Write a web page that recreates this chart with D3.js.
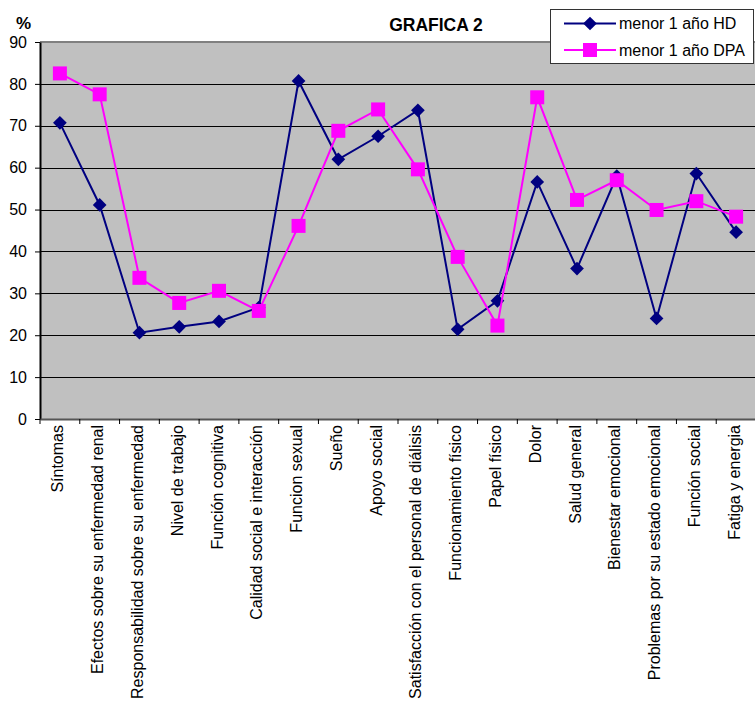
<!DOCTYPE html>
<html>
<head>
<meta charset="utf-8">
<script src="https://cdn.jsdelivr.net/npm/d3@7"></script>
<style>
  html, body { margin: 0; padding: 0; background: #fff; }
  svg { display: block; font-family: "Liberation Sans", Arial, sans-serif; }
  svg text { font-family: "Liberation Sans", Arial, sans-serif; }
</style>
</head>
<body>
<svg id="chart" width="755" height="702"></svg>
<script>
// Dimensiones de calidad de vida (eje X)
const categories = [
  "Síntomas",
  "Efectos sobre su enfermedad renal",
  "Responsabilidad sobre su enfermedad",
  "Nivel de trabajo",
  "Función cognitiva",
  "Calidad social e interacción",
  "Funcion sexual",
  "Sueño",
  "Apoyo social",
  "Satisfacción con el personal de diálisis",
  "Funcionamiento físico",
  "Papel físico",
  "Dolor",
  "Salud general",
  "Bienestar emocional",
  "Problemas por su estado emocional",
  "Función social",
  "Fatiga y energia"
];

// Puntuaciones (%) por grupo
const valuesHD  = [70.7, 51.1, 20.6, 22.0, 23.3, 26.6, 80.7, 62.0, 67.5, 73.7, 21.4, 28.2, 56.6, 35.9, 58.0, 24.0, 58.6, 44.6];
const valuesDPA = [82.5, 77.5, 33.7, 27.7, 30.6, 25.8, 46.1, 68.8, 73.9, 59.6, 38.7, 22.3, 76.8, 52.3, 57.0, 49.9, 52.0, 48.3];

const seriesNames = ["menor 1 año HD", "menor 1 año DPA"];
const yTicks = [0, 10, 20, 30, 40, 50, 60, 70, 80, 90];

const svg = d3.select("#chart");
const plot = { left: 40, top: 42, right: 756, bottom: 419 };

const x = d3.scaleBand().domain(categories).range([plot.left, plot.right]).padding(0);
const y = d3.scaleLinear().domain([0, 90]).range([plot.bottom, plot.top]);

// Fondo del área de trazado
svg.append("rect")
  .attr("x", plot.left).attr("y", plot.top)
  .attr("width", plot.right - plot.left).attr("height", plot.bottom - plot.top)
  .attr("fill", "#c0c0c0");

// Líneas de cuadrícula
svg.append("g")
  .selectAll("line")
  .data(yTicks.filter(d => d > 0 && d < 90))
  .join("line")
  .attr("x1", plot.left).attr("x2", plot.right)
  .attr("y1", d => Math.round(y(d)) + 0.5).attr("y2", d => Math.round(y(d)) + 0.5)
  .attr("stroke", "#000").attr("stroke-width", 1);

// Borde superior
svg.append("line")
  .attr("x1", plot.left).attr("x2", plot.right)
  .attr("y1", plot.top).attr("y2", plot.top)
  .attr("stroke", "#808080").attr("stroke-width", 2);

// Eje Y
const yAxis = svg.append("g")
  .attr("transform", `translate(${plot.left},0)`)
  .call(d3.axisLeft(y).tickValues(yTicks).tickSize(5).tickSizeOuter(0).tickPadding(8));
yAxis.attr("font-family", null);
yAxis.select(".domain").attr("stroke", "#000").attr("stroke-width", 2);
yAxis.selectAll(".tick line").attr("stroke", "#000");
yAxis.selectAll(".tick text")
  .attr("font-size", 16).attr("fill", "#000");

// Eje X con marcas entre categorías
const xAxis = svg.append("g")
  .attr("transform", `translate(0,${plot.bottom})`)
  .call(d3.axisBottom(x).tickSize(0).tickSizeOuter(0));
xAxis.attr("font-family", null);
xAxis.select(".domain").attr("stroke", "#555").attr("stroke-width", 2);
xAxis.selectAll(".tick line").remove();
xAxis.selectAll(".tick text")
  .attr("font-size", 16).attr("fill", "#000")
  .attr("text-anchor", "end")
  .attr("transform", "rotate(-90)")
  .attr("x", -6).attr("y", -2).attr("dy", "0.35em");

svg.append("g")
  .selectAll("line")
  .data(categories)
  .join("line")
  .attr("x1", d => x(d)).attr("x2", d => x(d))
  .attr("y1", plot.bottom).attr("y2", plot.bottom + 5)
  .attr("stroke", "#000").attr("stroke-width", 1);

// Series
const cx = d => x(d) + x.bandwidth() / 2;
const line = d3.line().x(d => cx(d.cat)).y(d => y(d.v));

const hd = categories.map((c, i) => ({ cat: c, v: valuesHD[i] }));
const dpa = categories.map((c, i) => ({ cat: c, v: valuesDPA[i] }));

const navy = "#000080", magenta = "#ff00ff";
const diamond = d3.symbol().type(d3.symbolDiamond2).size(120);

svg.append("path").datum(hd).attr("d", line)
  .attr("fill", "none").attr("stroke", navy).attr("stroke-width", 2);
svg.append("g").selectAll("path").data(hd).join("path")
  .attr("d", diamond)
  .attr("transform", d => `translate(${cx(d.cat)},${y(d.v)})`)
  .attr("fill", navy);

svg.append("path").datum(dpa).attr("d", line)
  .attr("fill", "none").attr("stroke", magenta).attr("stroke-width", 2);
svg.append("g").selectAll("rect").data(dpa).join("rect")
  .attr("x", d => cx(d.cat) - 7).attr("y", d => y(d.v) - 7)
  .attr("width", 14).attr("height", 14)
  .attr("fill", magenta);

// Título y unidad
svg.append("text")
  .attr("x", 436).attr("y", 31)
  .attr("text-anchor", "middle")
  .attr("font-size", 17.5).attr("font-weight", "bold")
  .text("GRAFICA 2");

svg.append("text")
  .attr("x", 16).attr("y", 29)
  .attr("font-size", 17).attr("font-weight", "bold")
  .text("%");

// Leyenda
const legend = svg.append("g");
legend.append("rect")
  .attr("x", 550.5).attr("y", 9.5).attr("width", 203).attr("height", 54)
  .attr("fill", "#fff").attr("stroke", "#333").attr("stroke-width", 1);

const legendRows = [
  { name: seriesNames[0], color: navy, marker: "diamond", y: 23.5 },
  { name: seriesNames[1], color: magenta, marker: "square", y: 50 }
];
legendRows.forEach(r => {
  legend.append("line")
    .attr("x1", 564).attr("x2", 616).attr("y1", r.y).attr("y2", r.y)
    .attr("stroke", r.color).attr("stroke-width", 2);
  if (r.marker === "diamond") {
    legend.append("path").attr("d", diamond)
      .attr("transform", `translate(590,${r.y})`).attr("fill", r.color);
  } else {
    legend.append("rect").attr("x", 583).attr("y", r.y - 7)
      .attr("width", 14).attr("height", 14).attr("fill", r.color);
  }
  legend.append("text")
    .attr("x", 619).attr("y", r.y).attr("dy", "0.35em")
    .attr("font-size", 16).attr("fill", "#000")
    .text(r.name);
});
</script>
</body>
</html>
